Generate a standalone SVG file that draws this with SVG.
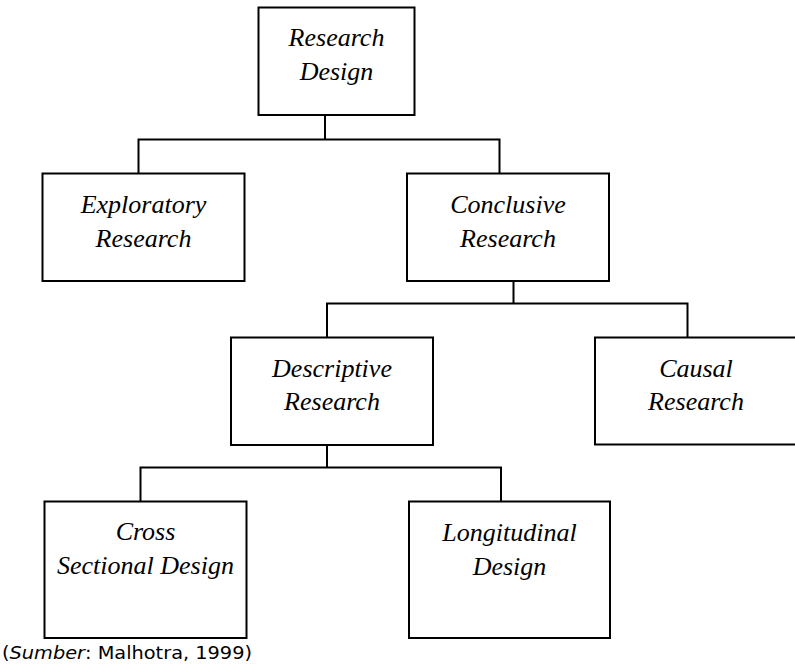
<svg xmlns="http://www.w3.org/2000/svg" width="795" height="664" viewBox="0 0 795 664">
<style>
.box{fill:#fff;stroke:#000;stroke-width:2}
.lbl{font-family:'Liberation Serif','DejaVu Serif',serif;font-style:italic;font-size:26px;fill:#000;text-anchor:middle}
.conn{fill:none;stroke:#000;stroke-width:2}
.src{font-family:'DejaVu Sans',Verdana,sans-serif;font-size:17px;fill:#000}
</style>
<rect width="795" height="664" fill="#fff"/>
<g id="connectors">
<path class="conn" d="M325,115 V139.5 M138.5,173.5 V139.5 H499.5 V173.5"/>
<path class="conn" d="M513.5,281 V303.5 M327,337.5 V303.5 H687.5 V337.5"/>
<path class="conn" d="M327,445 V467.5 M140.5,501.5 V467.5 H501 V501.5"/>
</g>
<g id="research-design">
<rect class="box" x="258.5" y="7.5" width="156" height="107.5"/>
<text class="lbl" x="336.5" y="46">Research</text>
<text class="lbl" x="336.5" y="80">Design</text>
</g>
<g id="exploratory">
<rect class="box" x="42.5" y="173.5" width="202" height="107.5"/>
<text class="lbl" x="143.5" y="213">Exploratory</text>
<text class="lbl" x="143.5" y="246.5">Research</text>
</g>
<g id="conclusive">
<rect class="box" x="407" y="173.5" width="202" height="107.5"/>
<text class="lbl" x="508" y="213">Conclusive</text>
<text class="lbl" x="508" y="246.5">Research</text>
</g>
<g id="descriptive">
<rect class="box" x="231" y="337.5" width="202" height="107.5"/>
<text class="lbl" x="332" y="376.5">Descriptive</text>
<text class="lbl" x="332" y="410">Research</text>
</g>
<g id="causal">
<rect class="box" x="595" y="337.5" width="202" height="107"/>
<text class="lbl" x="696" y="377">Causal</text>
<text class="lbl" x="696" y="410">Research</text>
</g>
<g id="cross-sectional">
<rect class="box" x="44.5" y="501.5" width="202" height="136.5"/>
<text class="lbl" x="145.5" y="540">Cross</text>
<text class="lbl" x="145.5" y="574">Sectional Design</text>
</g>
<g id="longitudinal">
<rect class="box" x="409" y="501.5" width="201" height="136.5"/>
<text class="lbl" x="509.5" y="540.5">Longitudinal</text>
<text class="lbl" x="509.5" y="575">Design</text>
</g>
<text class="src" x="2" y="659" textLength="250" lengthAdjust="spacingAndGlyphs">(<tspan font-style="italic">Sumber</tspan>: Malhotra, 1999)</text>
</svg>
